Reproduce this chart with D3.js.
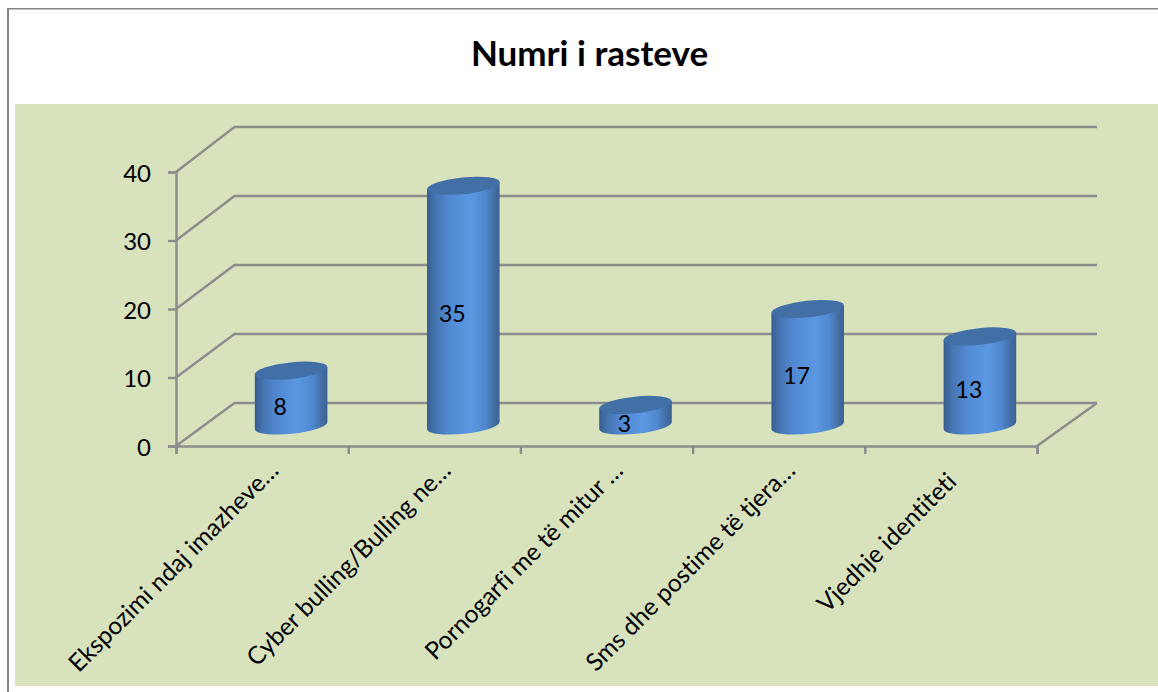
<!DOCTYPE html>
<html>
<head>
<meta charset="utf-8">
<script src="https://cdnjs.cloudflare.com/ajax/libs/d3/7.8.5/d3.min.js"></script>
<style>
  html, body { margin: 0; padding: 0; background: #fff; overflow: hidden; }
  text { font-family: Lato, "Open Sans", sans-serif; fill: #000; font-variant-ligatures: none; }
</style>
</head>
<body>
<script>
// chart data
var categories = ["Ekspozimi ndaj imazheve…", "Cyber bulling/Bulling ne…", "Pornogarfi me të mitur …", "Sms dhe postime të tjera…", "Vjedhje identiteti"];
var values = [8, 35, 3, 17, 13];
var yTicks = [0, 10, 20, 30, 40];
var title = "Numri i rasteve";

var w = 1158, h = 692;
var axisColor = "#8c8c8c";

var svg = d3.select("body").append("svg").attr("width", w).attr("height", h);

// outer frame and green panel
svg.append("rect").attr("width", w).attr("height", h).attr("fill", "#fff");
svg.append("rect").attr("x", 7).attr("y", 8).attr("width", w).attr("height", 1.5).attr("fill", "#858585");
svg.append("rect").attr("x", 7).attr("y", 8).attr("width", 2).attr("height", h).attr("fill", "#858585");
svg.append("rect").attr("x", 15).attr("y", 104).attr("width", w - 15).attr("height", 582).attr("fill", "#d8e3bd");

svg.append("text")
  .attr("x", 589.5)
  .attr("y", 66)
  .attr("text-anchor", "middle")
  .style("font-size", "35px")
  .style("font-weight", "bold")
  .text(title);

// scales, front of the floor and back wall
var xScale = d3.scaleBand().domain(categories).range([176, 1037]);
var xEdge = d3.scaleLinear().domain([0, categories.length]).range([176, 1037]);
var yScale = d3.scaleLinear().domain([0, 40]).range([446, 172]);
var yBack = d3.scaleLinear().domain([0, 40]).range([403, 127]);
var backLeft = 234.5, backRight = 1097;

// side wall and back wall gridlines
var grid = svg.append("g").attr("fill", "none").attr("stroke", axisColor).attr("stroke-width", 2.4);
grid.selectAll("path.wall")
  .data(yTicks)
  .enter()
  .append("path")
  .attr("class", "wall")
  .attr("d", function(d) {
    var p = d3.path();
    p.moveTo(xEdge(0), yScale(d));
    p.lineTo(backLeft, yBack(d));
    p.lineTo(backRight, yBack(d));
    return p.toString();
  });
// right edge of the floor
grid.append("line")
  .attr("x1", xEdge(categories.length)).attr("y1", yScale(0))
  .attr("x2", backRight).attr("y2", yBack(0));

// axes
var yAxis = d3.axisLeft(yScale).tickValues(yTicks).tickSize(8).tickPadding(17);
var yG = svg.append("g").attr("transform", "translate(" + xEdge(0) + ",0)").call(yAxis);
var xTicks = d3.axisBottom(xEdge).ticks(categories.length).tickFormat("").tickSize(8);
var xG = svg.append("g").attr("transform", "translate(0," + yScale(0) + ")").call(xTicks);
[yG, xG].forEach(function(g) {
  g.selectAll("path, line").attr("stroke", axisColor).attr("stroke-width", 2.4);
});
yG.selectAll("text").style("font-size", "24px").attr("fill", "#000").attr("dy", "0.38em");

// rotated category labels, the untruncated one sits further back
var xLabels = d3.axisBottom(xScale).tickSize(0).tickPadding(0);
var xL = svg.append("g").attr("transform", "translate(0," + yScale(0) + ")").call(xLabels);
xL.select(".domain").remove();
xL.selectAll("text")
  .attr("text-anchor", "end")
  .attr("dy", null)
  .attr("y", null)
  .attr("transform", function(d) {
    return d.slice(-1) == "…" ? "translate(18,26) rotate(-45)" : "translate(7,37) rotate(-45)";
  })
  .style("font-size", "24.5px");

// cylinder gradient
var defs = svg.append("defs");
var bodyGrad = defs.append("linearGradient").attr("id", "body");
[[0, "#375d90"], [0.12, "#4675b2"], [0.3, "#5089d2"], [0.6, "#5b97e2"], [0.8, "#4f88ce"], [0.93, "#436ca2"], [1, "#3c6394"]].forEach(function(s) {
  bodyGrad.append("stop").attr("offset", s[0]).attr("stop-color", s[1]);
});

// bars sit half way into the depth of the box
var rx = 36.5, ry = 8.3, tilt = -6;
var ex = rx * Math.cos(tilt * Math.PI / 180), ey = rx * Math.sin(tilt * Math.PI / 180);

function barX(d, i) { return xScale(categories[i]) + xScale.bandwidth() / 2 + 29; }
function barY(v) { return yScale(v) - 20.5; }

var bars = svg.selectAll("g.bar")
  .data(values)
  .enter()
  .append("g")
  .attr("class", "bar");

bars.append("path")
  .attr("fill", "url(#body)")
  .attr("d", function(d, i) {
    var cx = barX(d, i), top = barY(d), base = barY(0);
    return "M" + (cx - ex) + "," + (top - ey) +
      "L" + (cx - ex) + "," + (base - ey) +
      "A" + rx + "," + ry + " " + tilt + " 0 0 " + (cx + ex) + "," + (base + ey) +
      "L" + (cx + ex) + "," + (top + ey) + "Z";
  });

bars.append("ellipse")
  .attr("rx", rx)
  .attr("ry", ry)
  .attr("fill", "#416fa6")
  .attr("transform", function(d, i) {
    return "translate(" + barX(d, i) + "," + barY(d) + ") rotate(" + tilt + ")";
  });

bars.append("text")
  .attr("x", function(d, i) { return barX(d, i) - 11; })
  .attr("y", function(d) { return (barY(d) + barY(0)) / 2 + 8.5; })
  .attr("dy", "0.35em")
  .attr("text-anchor", "middle")
  .style("font-size", "23px")
  .text(function(d) { return d; });
</script>
</body>
</html>
